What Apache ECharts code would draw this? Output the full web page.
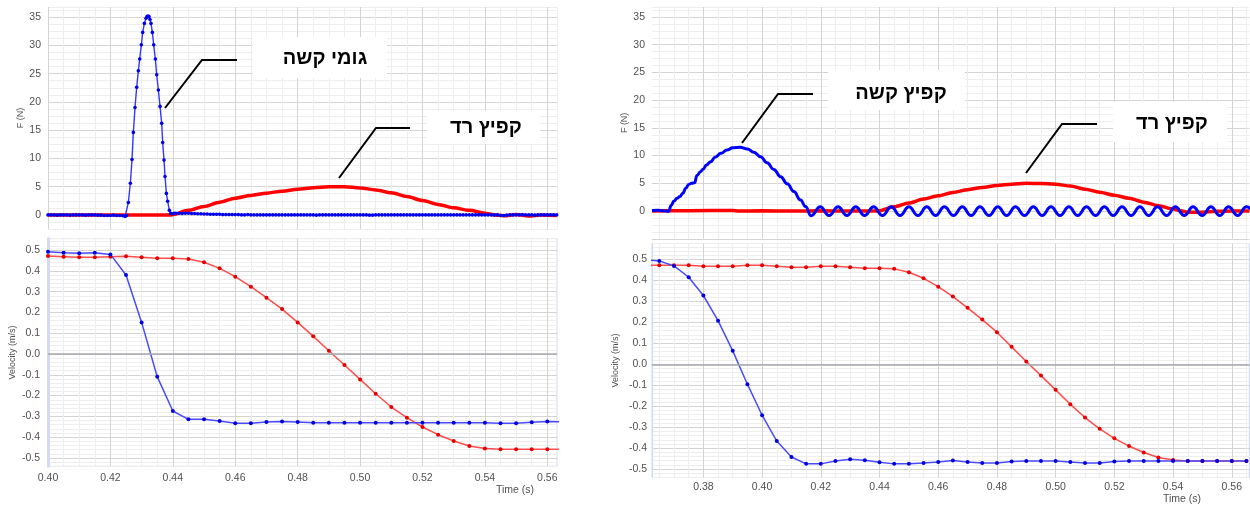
<!DOCTYPE html>
<html><head><meta charset="utf-8">
<script src="https://cdn.jsdelivr.net/npm/echarts@6/dist/echarts.min.js"></script>
<style>html,body{margin:0;padding:0;background:#fff}#c{width:1250px;height:505px}</style>
</head><body><div id="c"></div><script>
// ---------- DATA (time in s) ----------
// Left panel: hard rubber (blue) vs soft spring (red)
const forceRubberLeft = [
 [0.400,0],[0.401,0],[0.402,0],[0.403,-0.05],[0.404,0],[0.405,0],[0.406,0],[0.407,-0.05],[0.408,0],[0.409,0],
 [0.410,0],[0.411,0],[0.412,-0.05],[0.413,0],[0.414,0],[0.415,0],[0.416,-0.05],[0.417,-0.05],[0.418,-0.1],[0.419,-0.1],
 [0.420,-0.1],[0.421,-0.05],[0.422,-0.1],[0.423,-0.1],[0.424,-0.15],[0.4247,-0.3],[0.4252,-0.1],
 [0.42575,2.2],[0.42639,5.6],[0.42692,9.8],[0.42735,14.6],[0.42788,19.0],[0.42842,22.6],[0.42895,25.5],[0.42938,27.6],
 [0.42991,30.1],[0.43034,32.3],[0.43088,33.9],[0.43141,34.8],[0.43173,35.1],[0.43205,35.2],[0.43237,35.1],[0.43269,34.6],
 [0.43301,33.9],[0.43344,32.3],[0.43387,30.1],[0.43440,27.6],[0.43483,24.8],[0.43536,22.1],[0.43590,19.2],[0.43643,16.2],
 [0.43675,12.8],[0.43718,9.7],[0.43750,6.8],[0.43793,3.8],[0.43835,2.4],[0.43889,0.8],[0.43932,0.3],
 [0.4398,0.2],[0.4404,0.3],[0.441,0.3],[0.442,0.3],[0.443,0.25],[0.444,0.3],[0.445,0.3],[0.446,0.25],[0.447,0.25],[0.448,0.2],[0.449,0.2],
 [0.450,0.15],[0.451,0.15],[0.452,0.1],[0.453,0.1],[0.454,0.1],[0.455,0.1],[0.456,0.05],[0.457,0.05],[0.458,0.05],[0.459,0.05],
 [0.460,0.05],[0.461,0.05],[0.462,0],[0.463,0],[0.464,0.05],[0.465,0],[0.466,0],[0.467,0],[0.468,0],[0.469,0],
 [0.470,0],[0.471,0],[0.472,0],[0.473,0],[0.474,0],[0.475,0],[0.476,0],[0.477,0],[0.478,0],[0.479,0],
 [0.480,0],[0.481,0],[0.482,0],[0.483,0],[0.484,0],[0.485,0],[0.486,-0.05],[0.487,0],[0.488,0],[0.489,0],
 [0.490,0],[0.491,0],[0.492,0],[0.493,0],[0.494,0],[0.495,0],[0.496,0],[0.497,0],[0.498,0],[0.499,0],
 [0.500,0],[0.501,0],[0.502,0],[0.503,-0.05],[0.504,-0.05],[0.505,0],[0.506,0],[0.507,0],[0.508,0],[0.509,0],
 [0.510,0],[0.511,0],[0.512,0],[0.513,0],[0.514,0],[0.515,0],[0.516,0],[0.517,0],[0.518,0],[0.519,0],
 [0.520,0],[0.521,0],[0.522,0],[0.523,0],[0.524,0],[0.525,0],[0.526,0],[0.527,0],[0.528,0],[0.529,0],
 [0.530,0],[0.531,0],[0.532,0],[0.533,0],[0.534,0],[0.535,0],[0.536,0],[0.537,0],[0.538,0],[0.539,0],
 [0.540,0],[0.541,0],[0.542,0],[0.543,0],[0.544,0],[0.545,-0.1],[0.546,-0.1],[0.547,-0.05],[0.548,0],[0.549,0],
 [0.550,0],[0.551,0],[0.552,0.05],[0.553,0],[0.554,0],[0.555,0],[0.556,-0.05],[0.557,0],[0.558,0],[0.559,0],
 [0.560,0],[0.561,0],[0.562,0],[0.563,0]
];
const forceSoftLeft = [
 [0.400,0],[0.410,0],[0.420,0],[0.430,0],[0.4395,0],[0.440,0.05],[0.445,0.8],[0.450,1.5],[0.455,2.25],[0.460,2.95],
 [0.465,3.45],[0.470,3.85],[0.475,4.2],[0.480,4.55],[0.485,4.82],[0.490,4.98],[0.495,4.98],[0.500,4.78],[0.505,4.42],
 [0.510,3.9],[0.515,3.25],[0.520,2.55],[0.525,1.85],[0.530,1.25],[0.535,0.8],[0.540,0.3],[0.543,0.0],[0.546,-0.15],
 [0.550,0.05],[0.554,-0.2],[0.558,0.0],[0.563,-0.1]
];
const velRubberLeft = [
 [0.400,0.492],[0.405,0.487],[0.410,0.484],[0.415,0.487],[0.420,0.479],[0.425,0.380],[0.430,0.152],[0.435,-0.109],
 [0.440,-0.274],[0.445,-0.314],[0.450,-0.314],[0.455,-0.322],[0.460,-0.333],[0.465,-0.333],[0.470,-0.327],[0.475,-0.324],
 [0.480,-0.327],[0.485,-0.330],[0.490,-0.330],[0.495,-0.330],[0.500,-0.330],[0.505,-0.330],[0.510,-0.330],[0.515,-0.330],
 [0.520,-0.330],[0.525,-0.330],[0.530,-0.330],[0.535,-0.330],[0.540,-0.330],[0.545,-0.333],[0.550,-0.333],[0.555,-0.328],
 [0.560,-0.325],[0.565,-0.326]
];
const velSoftLeft = [
 [0.400,0.471],[0.405,0.468],[0.410,0.465],[0.415,0.465],[0.420,0.468],[0.425,0.470],[0.430,0.465],[0.435,0.460],
 [0.440,0.460],[0.445,0.457],[0.450,0.441],[0.455,0.412],[0.460,0.372],[0.465,0.324],[0.470,0.271],[0.475,0.216],
 [0.480,0.152],[0.485,0.085],[0.490,0.016],[0.495,-0.053],[0.500,-0.122],[0.505,-0.191],[0.510,-0.255],[0.515,-0.306],
 [0.520,-0.351],[0.525,-0.388],[0.530,-0.418],[0.535,-0.442],[0.540,-0.454],[0.545,-0.458],[0.550,-0.458],[0.555,-0.458],
 [0.560,-0.458],[0.565,-0.458]
];
// Right panel: hard spring (blue) vs soft spring (red)
const forceHardRight = [
 [0.3625,0.1],[0.3645,0.15],[0.3660,0.05],[0.3672,0],[0.3682,-0.05],[0.3690,1.0],[0.3700,1.8],[0.3710,2.3],[0.3720,2.6],
 [0.3730,3.2],[0.3740,4.1],[0.3750,4.8],[0.3760,5.0],[0.3770,5.1],[0.3778,6.4],[0.3790,7.1],[0.3800,7.6],[0.3810,8.3],
 [0.3825,8.9],[0.3840,9.7],[0.3860,10.4],[0.3880,11.0],[0.3900,11.4],[0.3925,11.5],[0.3950,11.2],[0.3972,10.6],
 [0.3995,9.8],[0.4017,8.7],[0.4040,7.5],[0.4063,6.2],[0.4086,4.9],[0.4108,3.5],[0.4131,2.0],[0.4148,0.8],[0.4167,-0.85],
 [0.4198,0.75],[0.4228,-0.8],[0.4259,0.75],[0.4289,-0.8],[0.4319,0.75],[0.4349,-0.8],[0.4380,0.75],[0.4410,-0.8],
 [0.4440,0.75],[0.4470,-0.8],[0.4500,0.75],[0.4531,-0.8],[0.4561,0.75],[0.4591,-0.8],[0.4621,0.75],[0.4652,-0.8],
 [0.4682,0.75],[0.4712,-0.8],[0.4742,0.75],[0.4773,-0.8],[0.4803,0.75],[0.4833,-0.8],[0.4863,0.75],[0.4894,-0.8],
 [0.4924,0.75],[0.4954,-0.8],[0.4984,0.75],[0.5015,-0.8],[0.5045,0.75],[0.5075,-0.8],[0.5105,0.75],[0.5136,-0.8],
 [0.5166,0.75],[0.5196,-0.8],[0.5226,0.75],[0.5257,-0.8],[0.5287,0.75],[0.5317,-0.8],[0.5347,0.75],[0.5378,-0.8],
 [0.5408,0.75],[0.5438,-0.8],[0.5468,0.75],[0.5499,-0.8],[0.5529,0.75],[0.5559,-0.8],[0.5589,0.75],[0.5620,-0.8],
 [0.5650,0.75],[0.5680,-0.8]
];
const forceSoftRight = [
 [0.3625,0],[0.375,0.05],[0.390,0.1],[0.392,0],[0.400,0.05],[0.410,0],[0.420,0.05],[0.430,0],[0.4395,0],[0.445,0.75],
 [0.450,1.45],[0.455,2.15],[0.460,2.75],[0.465,3.35],[0.470,3.85],[0.475,4.25],[0.480,4.6],[0.485,4.85],[0.490,5.0],
 [0.495,4.95],[0.500,4.85],[0.505,4.5],[0.510,3.95],[0.515,3.4],[0.520,2.85],[0.525,2.3],[0.530,1.6],[0.535,0.95],
 [0.540,0.35],[0.5425,0.05],[0.545,-0.2],[0.550,-0.2],[0.555,-0.05],[0.560,0],[0.566,0]
];
const velHardRight = [
 [0.360,0.498],[0.365,0.493],[0.370,0.469],[0.375,0.415],[0.380,0.328],[0.385,0.208],[0.390,0.064],[0.395,-0.095],
 [0.400,-0.243],[0.405,-0.366],[0.410,-0.442],[0.415,-0.475],[0.420,-0.475],[0.425,-0.461],[0.430,-0.453],[0.435,-0.458],
 [0.440,-0.467],[0.445,-0.475],[0.450,-0.475],[0.455,-0.471],[0.460,-0.466],[0.465,-0.459],[0.470,-0.466],[0.475,-0.471],
 [0.480,-0.471],[0.485,-0.464],[0.490,-0.461],[0.495,-0.461],[0.500,-0.461],[0.505,-0.466],[0.510,-0.471],[0.515,-0.471],
 [0.520,-0.464],[0.525,-0.461],[0.530,-0.461],[0.535,-0.461],[0.540,-0.461],[0.545,-0.461],[0.550,-0.461],[0.555,-0.461],
 [0.560,-0.461],[0.565,-0.461]
];
const velSoftRight = [
 [0.360,0.472],[0.365,0.472],[0.370,0.472],[0.375,0.472],[0.380,0.467],[0.385,0.467],[0.390,0.467],[0.395,0.472],
 [0.400,0.472],[0.405,0.467],[0.410,0.463],[0.415,0.463],[0.420,0.467],[0.425,0.467],[0.430,0.463],[0.435,0.458],
 [0.440,0.458],[0.445,0.455],[0.450,0.439],[0.455,0.410],[0.460,0.370],[0.465,0.323],[0.470,0.269],[0.475,0.213],
 [0.480,0.153],[0.485,0.083],[0.490,0.013],[0.495,-0.054],[0.500,-0.122],[0.505,-0.191],[0.510,-0.254],[0.515,-0.308],
 [0.520,-0.353],[0.525,-0.390],[0.530,-0.421],[0.535,-0.445],[0.540,-0.456],[0.545,-0.461],[0.550,-0.461],[0.555,-0.461],
 [0.560,-0.461],[0.565,-0.461]
];
const labels = {
  rubberHard: 'גומי קשה',
  springSoft: 'קפיץ רד',
  springHard: 'קפיץ קשה',
  forceAxis: 'F (N)',
  velAxis: 'Velocity (m/s)',
  timeAxis: 'Time (s)'
};

// ---------- STYLE ----------
const MAJ = '#d4d4d4', MIN = '#eeeeee', T = 'rgba(0,0,0,0)';
const FONT = 'Liberation Sans';
const BLUE = '#0000ff', RED = '#ff0000';

const fmtX = v => (Math.round(v * 10000) % 200 === 0 ? v.toFixed(2) : '');
const fmtF = v => { const r = Math.round(v * 100); return (r % 500 === 0 && r >= 0 && r <= 3500) ? String(r / 100) : ''; };
const fmtV = v => { const r = Math.round(v * 100); return (r % 10 === 0) ? (r / 100).toFixed(1) : ''; };

function xAx(grid, min, max, interval, colors, showLabels, margin) {
  return {
    type: 'value', gridIndex: grid, min: min, max: max, interval: interval,
    axisTick: { show: false },
    axisLine: { show: showLabels, lineStyle: { color: '#c9d3f2', width: 1 } },
    axisLabel: { show: showLabels, interval: 0, formatter: fmtX, color: '#505050', fontSize: 10.5, fontFamily: FONT, margin: margin },
    splitLine: { show: true, lineStyle: { color: colors, width: 1 } }
  };
}
function yAx(grid, min, max, interval, colors, fmt, name, gap, margin, lineW) {
  return {
    type: 'value', gridIndex: grid, min: min, max: max, interval: interval,
    name: name, nameLocation: 'middle', nameGap: gap,
    nameTextStyle: { color: '#505050', fontSize: 9, fontFamily: FONT },
    axisTick: { show: false },
    axisLine: { show: lineW > 0, lineStyle: { color: '#d3dbf4', width: lineW || 1 } },
    axisLabel: { interval: 0, formatter: fmt, color: '#505050', fontSize: 10.5, fontFamily: FONT, margin: margin },
    splitLine: { show: true, lineStyle: { color: colors, width: 1 } }
  };
}
const zeroLine = {
  silent: true, symbol: 'none', label: { show: false }, animation: false,
  lineStyle: { color: '#a8a8a8', width: 1.5, type: 'solid' }, data: [{ yAxis: 0 }]
};
function velSeries(xi, data, lineColor, dotColor, withZero) {
  const s = {
    type: 'line', xAxisIndex: xi, yAxisIndex: xi, data: data, symbol: 'circle', symbolSize: 4,
    lineStyle: { color: lineColor, width: 1.5 }, itemStyle: { color: dotColor }, clip: true
  };
  if (withZero) s.markLine = zeroLine;
  return s;
}

const option = {
  animation: false,
  backgroundColor: '#fff',
  grid: [
    { left: 48, width: 509, top: 7, height: 222, outerBoundsMode: 'none' },
    { left: 48, width: 509, top: 238.6, height: 227.7, show: true, borderColor: '#cdd6f3', borderWidth: 1, outerBoundsMode: 'none' },
    { left: 652, width: 597.4, top: 7, height: 231.75, outerBoundsMode: 'none' },
    { left: 652, width: 597.4, top: 243.5, height: 234, show: true, borderColor: '#cdd6f3', borderWidth: 1, outerBoundsMode: 'none' }
  ],
  xAxis: [
    xAx(0, 0.40, 0.5631, 0.005, [MAJ, MIN, MIN, MIN], false, 6),
    xAx(1, 0.40, 0.5631, 0.005, [MAJ, MIN, MIN, MIN], true, 6.5),
    xAx(2, 0.3625, 0.566, 0.0025, [T, MIN, T, MIN, T, MIN, T, MAJ], false, 6),
    xAx(3, 0.3625, 0.566, 0.0025, [T, MIN, T, MIN, T, MIN, T, MAJ], true, 4.5)
  ],
  yAxis: [
    yAx(0, -2.5, 36.8, 1.25, [MIN, MIN, MAJ, MIN], fmtF, labels.forceAxis, 23, 7, 0),
    yAx(1, -0.54, 0.555, 0.02, [MIN, MIN, MAJ, MIN, MIN], fmtV, labels.velAxis, 31, 8, 3),
    yAx(2, -5, 36.8, 1.25, [MAJ, MIN, MIN, MIN], fmtF, labels.forceAxis, 22, 7, 0),
    yAx(3, -0.54, 0.576, 0.02, [MIN, MIN, MAJ, MIN, MIN], fmtV, labels.velAxis, 32, 5, 1)
  ],
  series: [
    { type: 'line', xAxisIndex: 0, yAxisIndex: 0, data: forceSoftLeft, smooth: 0.3, smoothMonotone: 'x', showSymbol: false,
      lineStyle: { color: RED, width: 3.5 }, z: 2 },
    { type: 'line', xAxisIndex: 0, yAxisIndex: 0, data: forceRubberLeft, symbol: 'circle', symbolSize: 3.6, showSymbol: true,
      lineStyle: { color: '#3535ff', width: 1.4 }, itemStyle: { color: '#0000ee' }, z: 3 },
    velSeries(1, velSoftLeft, '#ff4d4d', '#e60000', true),
    velSeries(1, velRubberLeft, '#4a4aff', '#0000dd', false),
    { type: 'line', xAxisIndex: 2, yAxisIndex: 2, data: forceSoftRight, smooth: 0.3, smoothMonotone: 'x', showSymbol: false,
      lineStyle: { color: RED, width: 3.5 }, z: 2 },
    { type: 'line', xAxisIndex: 2, yAxisIndex: 2, data: forceHardRight, smooth: 0.45, smoothMonotone: 'x', showSymbol: false,
      lineStyle: { color: BLUE, width: 3 }, z: 3, clip: true },
    velSeries(3, velSoftRight, '#ff4d4d', '#e60000', true),
    velSeries(3, velHardRight, '#4a4aff', '#0000dd', false)
  ],
  graphic: [
    { type: 'rect', z: 100, shape: { x: 253, y: 37, width: 134, height: 41 }, style: { fill: '#fff' } },
    { type: 'text', z: 101, style: { text: labels.rubberHard, x: 325, y: 58, align: 'center', verticalAlign: 'middle', fill: '#000', font: 'bold 20px "Liberation Sans", "DejaVu Sans"' } },
    { type: 'polyline', z: 101, shape: { points: [[165, 108], [202, 60], [237, 60]] }, style: { stroke: '#000', lineWidth: 2, fill: null } },

    { type: 'rect', z: 100, shape: { x: 427, y: 111, width: 113, height: 33 }, style: { fill: '#fff' } },
    { type: 'text', z: 101, style: { text: labels.springSoft, x: 486, y: 127, align: 'center', verticalAlign: 'middle', fill: '#000', font: 'bold 20px "Liberation Sans", "DejaVu Sans"' } },
    { type: 'polyline', z: 101, shape: { points: [[339, 178], [376, 128], [410, 128]] }, style: { stroke: '#000', lineWidth: 2, fill: null } },

    { type: 'rect', z: 100, shape: { x: 828, y: 70, width: 137, height: 40 }, style: { fill: '#fff' } },
    { type: 'text', z: 101, style: { text: labels.springHard, x: 901, y: 93, align: 'center', verticalAlign: 'middle', fill: '#000', font: 'bold 20px "Liberation Sans", "DejaVu Sans"' } },
    { type: 'polyline', z: 101, shape: { points: [[742, 143], [778, 94], [813, 94]] }, style: { stroke: '#000', lineWidth: 2, fill: null } },

    { type: 'rect', z: 100, shape: { x: 1113, y: 102, width: 114, height: 40 }, style: { fill: '#fff' } },
    { type: 'text', z: 101, style: { text: labels.springSoft, x: 1172, y: 123, align: 'center', verticalAlign: 'middle', fill: '#000', font: 'bold 20px "Liberation Sans", "DejaVu Sans"' } },
    { type: 'polyline', z: 101, shape: { points: [[1026, 173], [1062, 124], [1097, 124]] }, style: { stroke: '#000', lineWidth: 2, fill: null } },

    { type: 'text', z: 50, style: { text: labels.timeAxis, x: 515, y: 490, align: 'center', verticalAlign: 'middle', fill: '#505050', font: '10.5px "Liberation Sans"' } },
    { type: 'text', z: 50, style: { text: labels.timeAxis, x: 1182, y: 499, align: 'center', verticalAlign: 'middle', fill: '#505050', font: '10.5px "Liberation Sans"' } }
  ]
};
const chart = echarts.init(document.getElementById('c'), null, { renderer: 'canvas' });
chart.setOption(option);
</script></body></html>
